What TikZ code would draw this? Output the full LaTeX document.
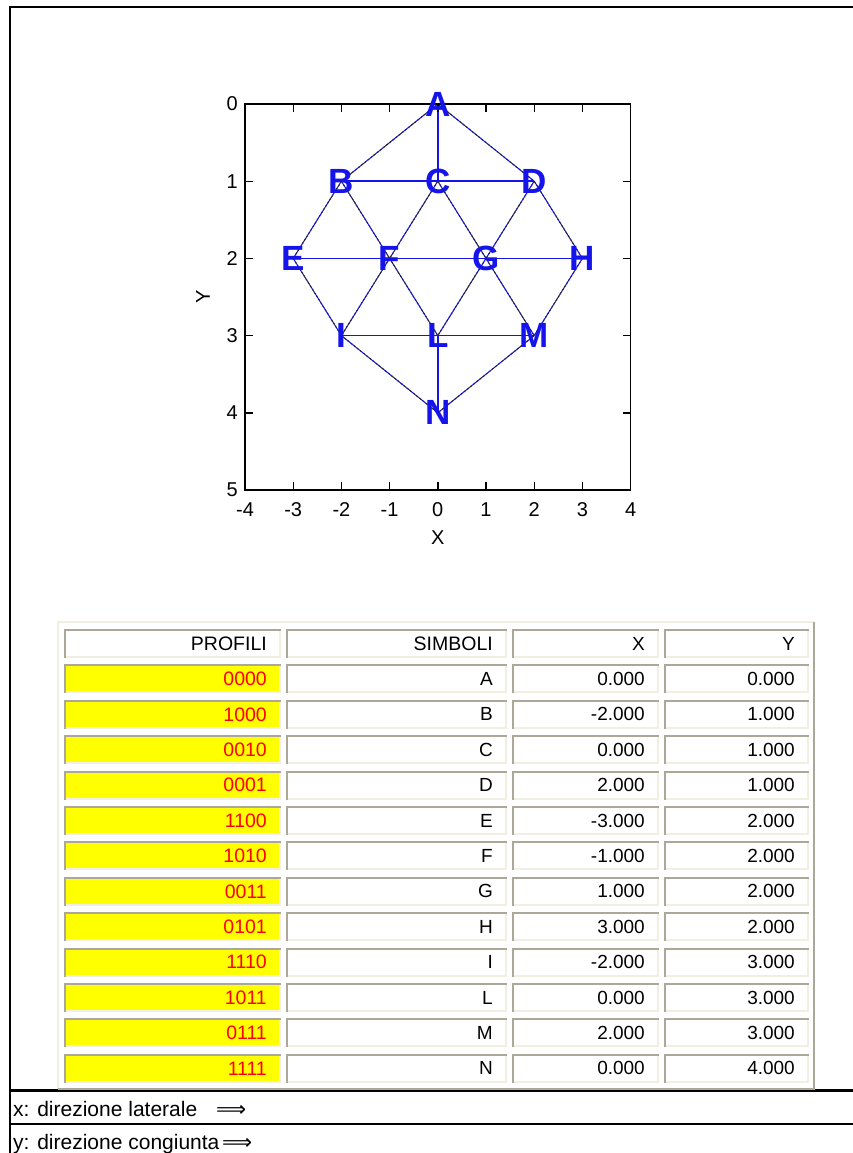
\documentclass[tikz,border=0pt]{standalone}
\usepackage{fontspec}
\setmainfont{Liberation Sans}
\newfontfamily\plotfont{Liberation Sans}
\newfontfamily\arrowfont{DejaVu Sans}
\definecolor{cellgray}{HTML}{ACA899}
\definecolor{celllight}{HTML}{F1EFE2}
\definecolor{plotblue}{RGB}{20,20,235}
\definecolor{cellyellow}{HTML}{FFFF00}
\newcommand\tcell[8]{%
  \fill[#5] (#2,#4) rectangle (#3,#4+29);
  \draw[cellgray,line width=2pt] (#2+1,#4+29) -- (#2+1,#4+1) -- (#3,#4+1);
  \draw[celllight,line width=2pt] (#3-1,#4+2) -- (#3-1,#4+28) -- (#2+2,#4+28);
  \node[celltext,text=#6,font=\fontsize{#7}{#7}\selectfont] (#1) at (#3-14,#4+14.5) {#8};
}
\begin{document}
\begin{tikzpicture}[x=1pt,y=-1pt,
  frameline/.style={line width=2.2pt,black},
  axisline/.style={line width=1.6pt,black},
  tickline/.style={line width=1.4pt,black},
  solidedge/.style={plotblue,line width=1.5pt},
  diagedge/.style={plotblue,line width=1pt,postaction={draw=black!85,line width=1pt,dash pattern=on 2pt off 2pt}},
  vertexlabel/.style={text=plotblue,font=\plotfont\bfseries\fontsize{35}{35}\selectfont,inner sep=0pt},
  ticklabel/.style={font=\plotfont\fontsize{20}{20}\selectfont,inner sep=0pt},
  celltext/.style={anchor=east,inner sep=0pt},
  bottomtext/.style={anchor=base west,inner sep=0pt,font=\fontsize{21}{21}\selectfont},
  arrowtext/.style={anchor=base west,inner sep=0pt,font=\arrowfont\fontsize{21}{21}\selectfont}]
\useasboundingbox (0,0) rectangle (853,1153);
\fill[white] (0,0) rectangle (853,1153);
% outer frame
\draw[frameline] (853,6.7) -- (10,6.7) -- (10,1153);
\draw[frameline] (10,1090.5) -- (853,1090.5);
\draw[frameline] (10,1124.3) -- (853,1124.3);
% plot
\begin{scope}[shift={(437.8,104)},x=48.2pt,y=-77.2pt]
  \foreach \n/\px/\py in {A/0/0,B/-2/1,C/0/1,D/2/1,E/-3/2,F/-1/2,G/1/2,H/3/2,I/-2/3,L/0/3,M/2/3,N/0/4}
    \coordinate (p\n) at (\px,\py);
  \foreach \a/\b in {A/B,A/D,B/E,B/F,C/F,C/G,D/G,D/H,E/I,F/I,F/L,G/L,G/M,H/M,I/N,M/N}
    \draw[diagedge] (p\a) -- (p\b);
  \foreach \a/\b in {A/C,B/D,E/H,I/M,L/N}
    \draw[solidedge] (p\a) -- (p\b);
  \draw[axisline] (-4,0) rectangle (4,5);
  \foreach \x in {-3,...,3} {
    \draw[tickline] (\x,0) -- ++(0pt,-8pt);
    \draw[tickline] (\x,5) -- ++(0pt,8pt);
  }
  \foreach \y in {1,...,4} {
    \draw[tickline] (-4,\y) -- ++(8pt,0pt);
    \draw[tickline] (4,\y) -- ++(-8pt,0pt);
  }
  \foreach \x in {-4,...,4}
    \node[ticklabel] (xt\x) at ([yshift=-20pt]\x,5) {\x};
  \foreach \y in {0,...,5}
    \node[ticklabel,anchor=east] (yt\y) at ([xshift=-7pt]-4,\y) {\y};
  \foreach \n in {A,B,C,D,E,F,G,H,I,L,M,N}
    \node[vertexlabel] (\n) at (p\n) {\n};
\end{scope}
\node[ticklabel] (xlab) at (437.8,538) {X};
\node[ticklabel,rotate=90] (ylab) at (203,297) {Y};
% table
\fill[white] (58,622) rectangle (814,1089);
\draw[celllight,line width=2pt] (58,1089) -- (58,622) -- (814,622);
\draw[cellgray,line width=2pt] (814,622) -- (814,1089) -- (58,1089);
\tcell{h1}{64}{281}{629}{white}{black}{19.5}{PROFILI}
\tcell{h2}{286}{507}{629}{white}{black}{19.5}{SIMBOLI}
\tcell{h3}{512}{659}{629}{white}{black}{19}{X}
\tcell{h4}{664}{809}{629}{white}{black}{19}{Y}
\foreach \p/\s/\xv/\yv [count=\i] in {0000/A/0.000/0.000,1000/B/-2.000/1.000,0010/C/0.000/1.000,0001/D/2.000/1.000,1100/E/-3.000/2.000,1010/F/-1.000/2.000,0011/G/1.000/2.000,0101/H/3.000/2.000,1110/I/-2.000/3.000,1011/L/0.000/3.000,0111/M/2.000/3.000,1111/N/0.000/4.000} {
  \pgfmathsetmacro\yt{629+35.4*\i}
  \tcell{c1r\i}{64}{281}{\yt}{cellyellow}{red}{19.5}{\p}
  \tcell{c2r\i}{286}{507}{\yt}{white}{black}{19}{\s}
  \tcell{c3r\i}{512}{659}{\yt}{white}{black}{19}{\xv}
  \tcell{c4r\i}{664}{809}{\yt}{white}{black}{19}{\yv}
}
% bottom notes
\node[bottomtext] (t1) at (13,1116) {x: direzione laterale};
\node[arrowtext] (a1) at (216,1116.5) {⟹};
\node[bottomtext] (t2) at (13,1149.3) {y: direzione congiunta};
\node[arrowtext] (a2) at (222,1149.8) {⟹};
\end{tikzpicture}
\end{document}
